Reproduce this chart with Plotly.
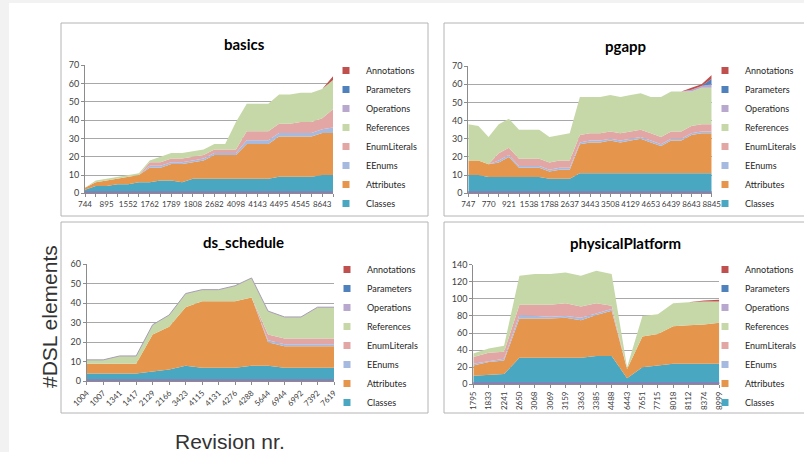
import plotly.graph_objects as go

W, H = 804, 452

series_names = ["Classes", "Attributes", "EEnums", "EnumLiterals",
                "References", "Operations", "Parameters", "Annotations"]
series_colors = ["#4aa7c2", "#e6964c", "#a6b9df", "#e2a6a5",
                 "#c6d8a8", "#b8a8cd", "#4f81bd", "#c0504d"]

# basics (24 revisions, every other one labelled)
basics_labels = ["744", "895", "1552", "1762", "1789", "1808",
                 "2682", "4098", "4143", "4495", "4545", "8643"]
basics_classes = [2, 4, 4, 5, 5, 6, 6, 7, 7, 6, 8, 8, 8, 8, 8, 8, 8, 8, 9, 9, 9, 9, 10, 10]
basics_attributes = [1, 2, 3, 3, 4, 4, 8, 7, 9, 10, 9, 10, 13, 13, 13, 19, 19, 19, 22, 22, 22, 22, 23, 23]
basics_eenums = [0, 0, 0, 0, 0, 0, 1, 1, 1, 1, 1, 1, 1, 1, 1, 2, 2, 2, 2, 2, 2, 2, 2, 3]
basics_enumliterals = [0, 0, 0, 0, 0, 0, 2, 2, 2, 2, 2, 2, 2, 2, 2, 5, 5, 5, 5, 5, 6, 6, 6, 10]
basics_references = [0, 1, 1, 1, 1, 1, 1, 3, 3, 3, 3, 3, 3, 3, 15, 15, 15, 15, 16, 16, 16, 16, 16, 16]
basics_operations = [0] * 24
basics_parameters = [0] * 24
basics_annotations = [0] * 23 + [2]

# pgapp (25 revisions, every other one labelled)
pgapp_labels = ["747", "770", "921", "1538", "1788", "2637", "3443",
                "3508", "4129", "4653", "6439", "8643", "8845"]
pgapp_classes = [10, 10, 9, 9, 9, 9, 9, 9, 8, 8, 8, 11, 11, 11, 11, 11, 11, 11, 11, 11, 11, 11, 11, 11, 11]
pgapp_attributes = [8, 8, 7, 8, 11, 5, 5, 5, 4, 5, 5, 16, 17, 17, 18, 17, 18, 19, 17, 15, 18, 18, 21, 22, 22]
pgapp_eenums = [0, 0, 0] + [1] * 22
pgapp_enumliterals = [0, 0, 0] + [4] * 22
pgapp_references = [20, 19, 15, 16, 16, 16, 16, 16, 14, 14, 15, 21, 20, 20, 20, 20, 20, 20, 20, 22, 22, 22, 19, 20, 20]
pgapp_operations = [0] * 22 + [1, 1, 2]
pgapp_parameters = [0] * 24 + [3]
pgapp_annotations = [0] * 22 + [1, 1, 2]

# ds_schedule (16 revisions)
ds_labels = ["1004", "1007", "1341", "1417", "2129", "2166", "3423", "4115",
             "4131", "4276", "4288", "5644", "6944", "6992", "7392", "7619"]
ds_classes = [4, 4, 4, 4, 5, 6, 8, 7, 7, 7, 8, 8, 7, 7, 7, 7]
ds_attributes = [5, 5, 5, 5, 19, 22, 30, 34, 34, 34, 35, 12, 11, 11, 11, 11]
ds_eenums = [0] * 11 + [1] * 5
ds_enumliterals = [0] * 11 + [3] * 5
ds_references = [2, 2, 4, 4, 5, 6, 7, 6, 6, 8, 10, 12, 11, 11, 16, 16]
ds_operations = [0] * 16
ds_parameters = [0] * 16
ds_annotations = [0] * 16

# physicalPlatform (17 revisions)
pp_labels = ["1795", "1833", "2241", "2650", "3068", "3069", "3159", "3363", "3385",
             "4488", "6443", "7651", "7715", "8018", "8112", "8374", "8999"]
pp_classes = [10, 11, 12, 31, 31, 31, 31, 31, 33, 33, 7, 20, 22, 24, 24, 24, 24]
pp_attributes = [12, 15, 16, 46, 46, 46, 47, 44, 48, 53, 11, 36, 37, 44, 45, 46, 48]
pp_eenums = [2, 1, 2, 4, 3, 2, 2, 3, 2, 2, 0, 0, 0, 0, 0, 0, 0]
pp_enumliterals = [8, 10, 8, 12, 13, 14, 15, 13, 12, 4, 0, 0, 0, 0, 0, 0, 0]
pp_references = [4, 5, 7, 34, 36, 36, 36, 36, 38, 37, 2, 24, 23, 27, 27, 27, 25]
pp_operations = [0] * 17
pp_parameters = [0] * 17
pp_annotations = [0] * 15 + [1, 2]


def fx(p):
    return p / W


def fy(p):
    return 1 - p / H


panels = [
    dict(title="basics", labels=basics_labels, step=2, ymax=70, dtick=10, angle=0,
         data=[basics_classes, basics_attributes, basics_eenums, basics_enumliterals,
               basics_references, basics_operations, basics_parameters, basics_annotations],
         plot=(85, 333, 193.3, 65.3), title_xy=(244, 44), legend_xy=(366, 70), outline=False),
    dict(title="pgapp", labels=pgapp_labels, step=2, ymax=70, dtick=10, angle=0,
         data=[pgapp_classes, pgapp_attributes, pgapp_eenums, pgapp_enumliterals,
               pgapp_references, pgapp_operations, pgapp_parameters, pgapp_annotations],
         plot=(468.3, 711.7, 193.3, 66), title_xy=(625, 46), legend_xy=(745, 70), outline=False),
    dict(title="ds_schedule", labels=ds_labels, step=1, ymax=60, dtick=10, angle=-45,
         data=[ds_classes, ds_attributes, ds_eenums, ds_enumliterals,
               ds_references, ds_operations, ds_parameters, ds_annotations],
         plot=(86.7, 334, 381.3, 264.3), title_xy=(243, 242), legend_xy=(367, 269), outline=True),
    dict(title="physicalPlatform", labels=pp_labels, step=1, ymax=140, dtick=20, angle=-90,
         data=[pp_classes, pp_attributes, pp_eenums, pp_enumliterals,
               pp_references, pp_operations, pp_parameters, pp_annotations],
         plot=(473.3, 719.3, 384.3, 264.7), title_xy=(625, 243), legend_xy=(745, 269), outline=False),
]

FONT = "Lato, Carlito, Arial"
ytick_font = dict(family=FONT, size=9, color="#404040")

fig = go.Figure()
shapes = [
    # light grey page edges
    dict(type="rect", xref="paper", yref="paper", x0=0, x1=fx(9), y0=0, y1=1,
         fillcolor="#f2f2f2", line_width=0, layer="below"),
    dict(type="rect", xref="paper", yref="paper", x0=0, x1=1, y0=fy(3), y1=1,
         fillcolor="#f2f2f2", line_width=0, layer="below"),
]
# chart frames (the right-hand ones run off the page)
for x0, x1, y0, y1 in [(61, 428, 23, 216), (444, 830, 23, 216),
                       (61, 428, 222, 413), (444, 830, 222, 413)]:
    shapes.append(dict(type="rect", xref="paper", yref="paper",
                       x0=fx(x0), x1=fx(x1), y0=fy(y1), y1=fy(y0),
                       line=dict(color="#b4b4b4", width=1), fillcolor="rgba(0,0,0,0)",
                       layer="below"))

annotations = []
layout_axes = {}

for k, p in enumerate(panels, start=1):
    sfx = "" if k == 1 else str(k)
    xa, ya = "x" + sfx, "y" + sfx
    leg = "legend" + sfx
    n = len(p["data"][0])
    xs = list(range(n))

    for name, color, vals in zip(series_names, series_colors, p["data"]):
        line = dict(width=0, color=color)
        if name == "Operations" and p["outline"]:
            line = dict(width=1, color="#a79cb8")
        fig.add_trace(go.Scatter(
            x=xs, y=vals, mode="lines", stackgroup="s" + sfx,
            fillcolor=color, line=line, showlegend=False,
            xaxis=xa, yaxis=ya, hoverinfo="skip",
        ))
        # legend-only square marker, Excel style
        fig.add_trace(go.Scatter(
            x=[None], y=[None], mode="markers", name=name,
            marker=dict(symbol="square", size=7, color=color),
            xaxis=xa, yaxis=ya, legend=leg,
        ))

    if p["step"] == 2:
        ticktext = [p["labels"][i // 2] if i % 2 == 0 else "" for i in xs]
    else:
        ticktext = p["labels"]

    px0, px1, py0, py1 = p["plot"]
    layout_axes["xaxis" + sfx] = dict(
        domain=[fx(px0), fx(px1)], anchor=ya, range=[0, n - 1],
        tickmode="array", tickvals=xs, ticktext=ticktext, tickangle=p["angle"],
        ticks="outside", ticklen=3, tickcolor="#8c8c8c",
        showline=True, linecolor="#8c8c8c", linewidth=1,
        showgrid=False, zeroline=False, automargin=False,
        tickfont=dict(family=FONT, size=8, color="#404040"), fixedrange=True,
    )
    layout_axes["yaxis" + sfx] = dict(
        domain=[fy(py0), fy(py1)], anchor=xa, range=[0, p["ymax"]], dtick=p["dtick"],
        ticks="outside", ticklen=3, tickcolor="#8c8c8c",
        showline=True, linecolor="#8c8c8c", linewidth=1,
        showgrid=True, gridcolor="#a8a8a8", gridwidth=1, zeroline=False,
        automargin=False, tickfont=ytick_font, fixedrange=True,
    )
    # thin purple band along the base of each chart
    shapes.append(dict(type="rect", xref=xa + " domain", yref=ya,
                       x0=0, x1=1, y0=0, y1=2, ysizemode="pixel", yanchor=0,
                       fillcolor="#8c7db5", line_width=0, layer="above"))

    tx, ty = p["title_xy"]
    annotations.append(dict(text="<b>" + p["title"] + "</b>", xref="paper", yref="paper",
                            x=fx(tx), y=fy(ty), xanchor="center", yanchor="middle",
                            showarrow=False,
                            font=dict(family=FONT, size=15, color="#000000")))

    lx, ly = p["legend_xy"]
    layout_axes[leg] = dict(
        xref="container", yref="container",
        x=fx(lx - 40), y=fy(ly - 14), xanchor="left", yanchor="top",
        traceorder="reversed", bgcolor="rgba(0,0,0,0)", borderwidth=0,
        font=dict(family=FONT, size=9, color="#262626"),
    )

annotations.append(dict(text="#DSL elements", xref="paper", yref="paper",
                        x=fx(49), y=fy(317), xanchor="center", yanchor="middle",
                        showarrow=False, textangle=-90,
                        font=dict(family="Liberation Sans, Arial", size=21, color="#333333")))
annotations.append(dict(text="Revision nr.", xref="paper", yref="paper",
                        x=fx(230), y=fy(441), xanchor="center", yanchor="middle",
                        showarrow=False,
                        font=dict(family="Liberation Sans, Arial", size=21, color="#333333")))

fig.update_layout(
    width=W, height=H,
    margin=dict(l=0, r=0, t=0, b=0, autoexpand=False),
    paper_bgcolor="#ffffff", plot_bgcolor="rgba(0,0,0,0)",
    shapes=shapes, annotations=annotations,
    hovermode=False,
    **layout_axes,
)

# page has a default 8px body margin and may show a scrollbar; remove both
fig.write_html(
    "out.html",
    config={"displayModeBar": False},
    post_script=(
        "var s=document.createElement('style');"
        "s.textContent='html,body{margin:0;padding:0;overflow:hidden;scrollbar-width:none;}"
        "::-webkit-scrollbar{display:none;width:0;height:0;}';"
        "document.head.appendChild(s);"
    ),
)
